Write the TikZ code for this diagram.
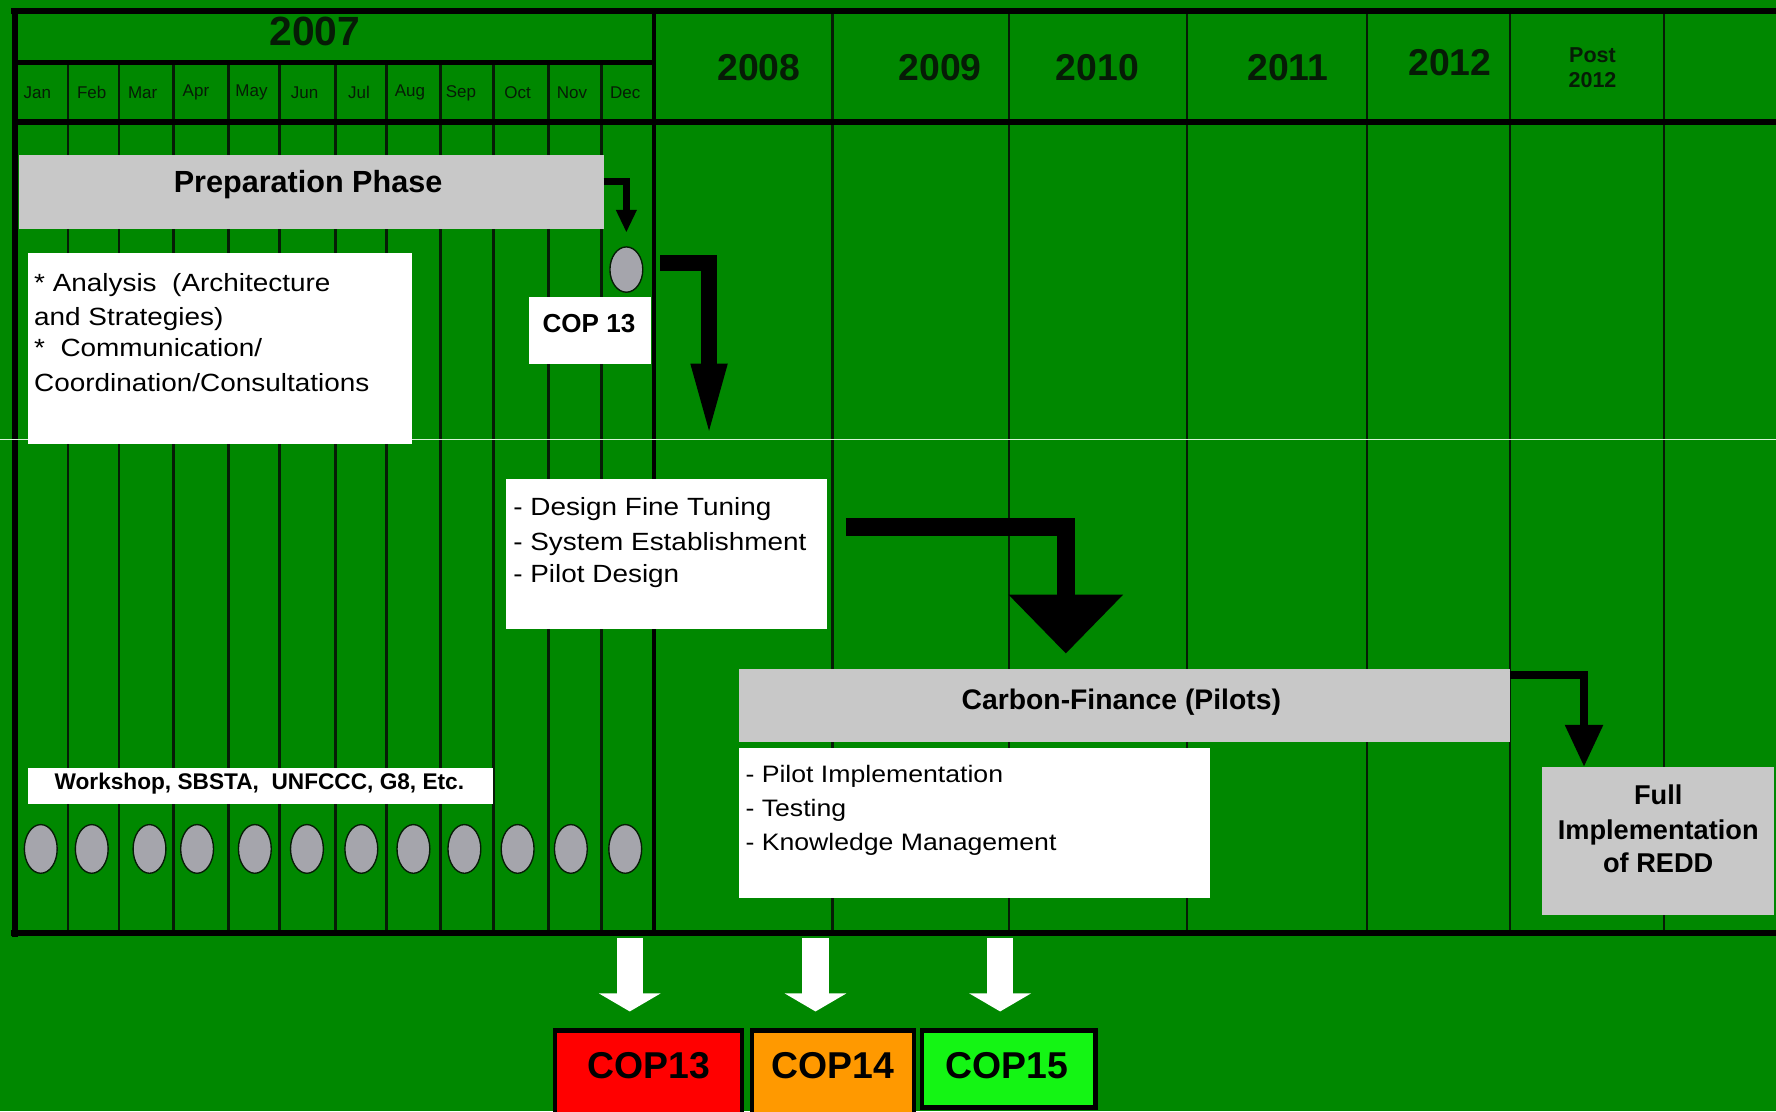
\documentclass[tikz,border=0pt]{standalone}
\usepackage{fontspec}
\setmainfont{Liberation Sans}
\newfontfamily\widefont[FakeStretch=1.12]{Liberation Sans}
\usetikzlibrary{arrows.meta,shapes.geometric}
\newcommand\setfs[1]{\fontsize{#1pt}{#1pt}\selectfont}
\definecolor{bg}{RGB}{0,136,0}
\definecolor{boxgray}{RGB}{200,200,200}
\definecolor{ellgray}{RGB}{165,165,172}
\definecolor{ink}{RGB}{6,28,6}
\definecolor{copred}{RGB}{255,0,0}
\definecolor{coporange}{RGB}{255,153,0}
\definecolor{copgreen}{RGB}{20,245,20}
\definecolor{glare}{RGB}{215,245,215}
\begin{document}
\begin{tikzpicture}[x=1pt,y=-1pt,
  box/.style={inner sep=0pt, outer sep=0pt, anchor=north west, draw=none},
  whitebox/.style={box, fill=white},
  graybox/.style={box, fill=boxgray},
  monthline/.style={draw=ink, line width=2.4pt},
  yearline/.style={draw=ink, line width=2pt},
  frameline/.style={draw=black, line width=5.5pt},
  hdr/.style={inner sep=0pt, text=ink},
  txt/.style={inner sep=0pt, text=black, anchor=base west},
  ctxt/.style={inner sep=0pt, text=black, anchor=base},
  ell/.style={ellipse, fill=ellgray, draw=ink, line width=1.2pt, minimum width=29pt, minimum height=43pt, inner sep=0pt},
  blackarrow/.style={draw=black, line join=miter},
  whitearrow/.style={draw=white, line width=23pt, -{Triangle[width=54pt,length=16pt]}},
  copbox/.style={box, draw=black, line width=4pt}
]
\useasboundingbox (0,0) rectangle (1568,981);
\clip (0,0) rectangle (1568,981);
\fill[bg] (0,0) rectangle (1568,981);

% grid lines
\foreach \x in {60,105,153,202,247,296,341,389,436,484,531}
  \draw[monthline] (\x,55) -- (\x,825);
\foreach \x in {735,891,1048,1207,1333,1469}
  \draw[yearline] (\x,10) -- (\x,825);
\draw[line width=3.5pt, draw=black] (577,10) -- (577,825);
\draw[line width=4pt, draw=black] (13,55) -- (577,55);
\draw[frameline] (13,108) -- (1580,108);
\draw[frameline] (10,10) -- (1580,10);
\draw[frameline] (13,8) -- (13,827);
\draw[frameline] (10,824) -- (1580,824);

% header texts
\node[hdr, font=\bfseries\setfs{36}] (y2007) at (278,28) {2007};
\foreach \x/\m in {33/Jan,81/Feb,126/Mar,173/Apr,222/May,269/Jun,317/Jul,362/Aug,407/Sep,457/Oct,505/Nov,552/Dec}
  \node[hdr, font=\setfs{15}] (m\m) at (\x,82) {\m};
\node[hdr, font=\bfseries\setfs{33}] (y2008) at (670,60) {2008};
\node[hdr, font=\bfseries\setfs{33}] (y2009) at (830,60) {2009};
\node[hdr, font=\bfseries\setfs{33}] (y2010) at (969,60) {2010};
\node[hdr, font=\bfseries\setfs{33}] (y2011) at (1137,60) {2011};
\node[hdr, font=\bfseries\setfs{33}] (y2012) at (1280,55) {2012};
\node[hdr, font=\bfseries\setfs{19}, align=center] (ypost) at (1406,60) {Post\\[3pt]2012};

% glare line
\draw[glare, line width=1.3pt] (0,388) -- (1568,388);

% boxes
\node[graybox, minimum width=516pt, minimum height=65pt] (prep) at (17,137) {};
\node[ctxt, font=\bfseries\setfs{27}] (prept) at (272,170) {Preparation Phase};

\node[whitebox, minimum width=339pt, minimum height=169pt] (ana) at (25,223) {};
\node[txt, font=\widefont\setfs{22}] (a1) at (30,257) {* Analysis\ \ (Architecture};
\node[txt, font=\widefont\setfs{22}] (a2) at (30,287) {and Strategies)};
\node[txt, font=\widefont\setfs{22}] (a3) at (30,315) {*\ \ Communication/};
\node[txt, font=\widefont\setfs{22}] (a4) at (30,346) {Coordination/Consultations};

\node[ell, minimum height=40pt, minimum width=29pt] (pc) at (553,238) {};
\node[whitebox, minimum width=108pt, minimum height=59pt] (copl) at (467,262) {};
\node[ctxt, font=\bfseries\setfs{23}] (coplt) at (520,294) {COP 13};

\node[whitebox, minimum width=283pt, minimum height=132pt] (design) at (447,423) {};
\node[txt, font=\widefont\setfs{22}] (d1) at (453,455) {- Design\ Fine Tuning};
\node[txt, font=\widefont\setfs{22}] (d2) at (453,486) {- System Establishment};
\node[txt, font=\widefont\setfs{22}] (d3) at (453,514) {- Pilot Design};

\node[graybox, minimum width=681pt, minimum height=64pt] (carbon) at (652,591) {};
\node[ctxt, font=\bfseries\setfs{25}] (carbont) at (990,626) {Carbon-Finance (Pilots)};

\node[whitebox, minimum width=416pt, minimum height=133pt] (pilot) at (652,660) {};
\node[txt, font=\widefont\setfs{21}] (p1) at (658,691) {- Pilot Implementation};
\node[txt, font=\widefont\setfs{21}] (p2) at (658,721) {- Testing};
\node[txt, font=\widefont\setfs{21}] (p3) at (658,751) {- Knowledge Management};

\node[graybox, minimum width=205pt, minimum height=131pt] (full) at (1361,677) {};
\node[ctxt, font=\bfseries\setfs{24}] (f1) at (1464,710) {Full};
\node[ctxt, font=\bfseries\setfs{24}] (f2) at (1464,741) {Implementation};
\node[ctxt, font=\bfseries\setfs{24}] (f3) at (1464,770) {of REDD};

\node[whitebox, minimum width=410pt, minimum height=32pt] (work) at (25,678) {};
\node[ctxt, font=\bfseries\setfs{20}] (workt) at (229,697) {Workshop, SBSTA,\ \ UNFCCC, G8, Etc.};

\foreach \x [count=\i] in {36,81,132,174,225,271,319,365,410,457,504,552}
  \node[ell] (e\i) at (\x,749.5) {};

% arrows
\draw[blackarrow, line width=6pt, -{Triangle[width=17pt,length=20pt]}]
  ([yshift=9.5pt]prep.east) -| ([yshift=12pt]pc.north);
\coordinate (b1s) at (583,232);
\coordinate (b1e) at (626,389);
\draw[blackarrow, line width=14pt, -{Triangle[width=28pt,length=68pt]}] (b1s) -| (b1e);
\coordinate (b2s) at (747,465);
\coordinate (b2e) at (941,577);
\draw[blackarrow, line width=16pt, -{Triangle[width=98pt,length=52pt]}] (b2s) -| (b2e);
\draw[blackarrow, line width=7pt, -{Triangle[width=32pt,length=37pt]}]
  ([yshift=-5pt]carbon.north east) -| ([xshift=-65pt]full.north);

% bottom COP boxes
\node[copbox, fill=copred, minimum width=165pt, minimum height=90pt] (cop13) at (490,910) {};
\node[copbox, fill=coporange, minimum width=143pt, minimum height=90pt] (cop14) at (664,910) {};
\node[copbox, fill=copgreen, minimum width=153pt, minimum height=68pt] (cop15) at (814,910) {};
\node[ctxt, font=\bfseries\setfs{33}] (cop13t) at (573,952) {COP13};
\node[ctxt, font=\bfseries\setfs{33}] (cop14t) at (735,952) {COP14};
\node[ctxt, font=\bfseries\setfs{33}] (cop15t) at (889,952) {COP15};

\coordinate (w1s) at (556,828); \coordinate (w1e) at (556,893);
\coordinate (w2s) at (720,828); \coordinate (w2e) at (720,893);
\coordinate (w3s) at (883,828); \coordinate (w3e) at (883,893);
\draw[whitearrow] (w1s) -- (w1e);
\draw[whitearrow] (w2s) -- (w2e);
\draw[whitearrow] (w3s) -- (w3e);
\end{tikzpicture}
\end{document}
